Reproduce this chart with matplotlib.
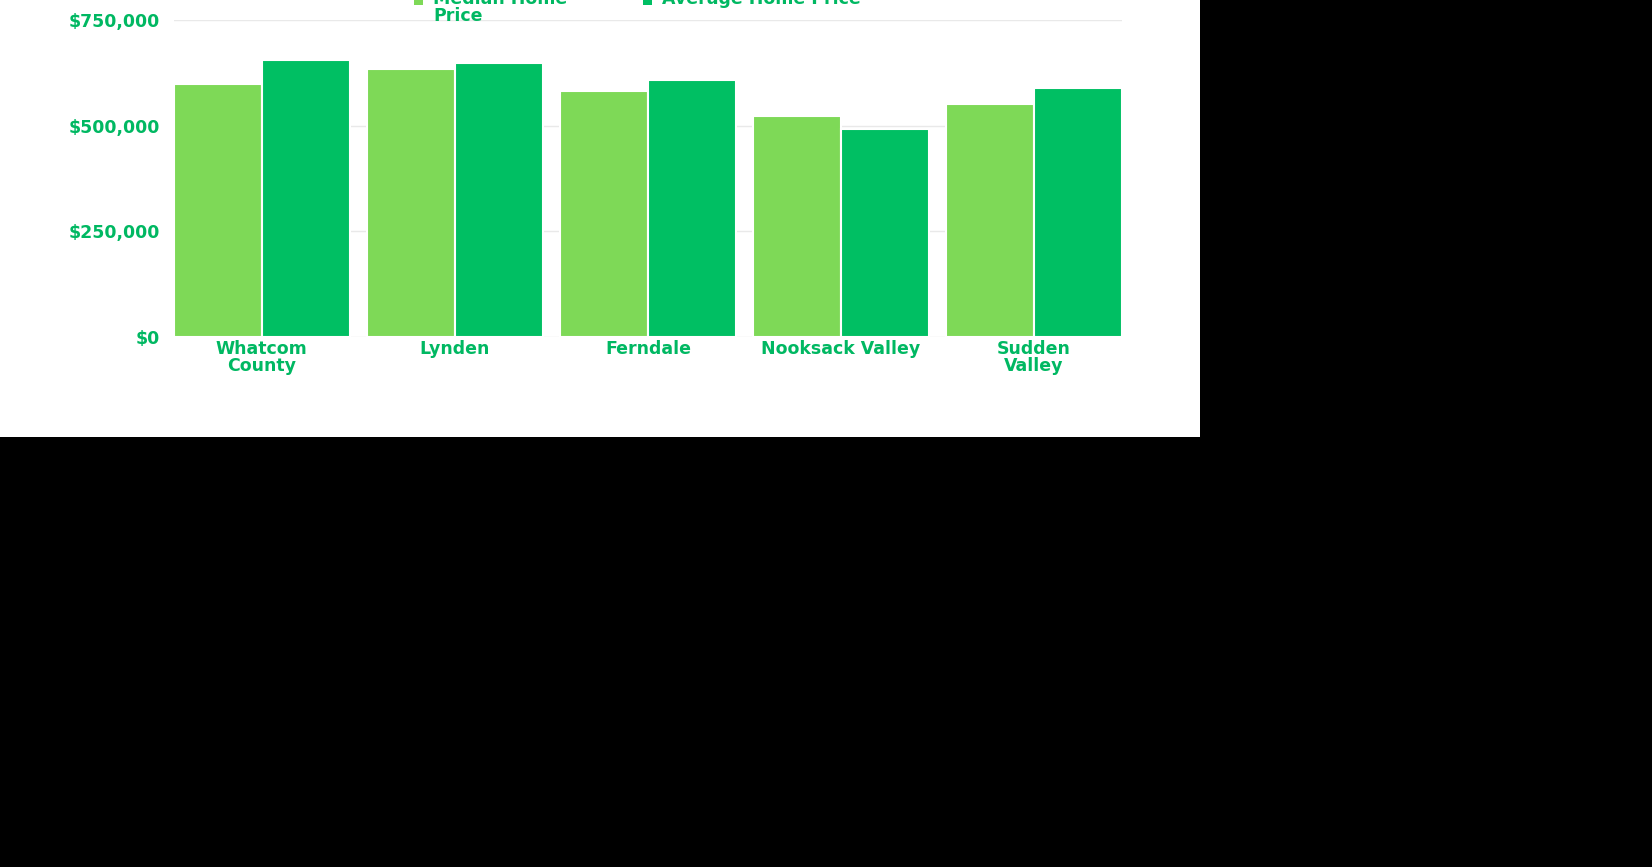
import matplotlib
matplotlib.use('Agg')
import matplotlib.pyplot as plt
import numpy as np
from matplotlib.patches import Rectangle
from matplotlib.ticker import FuncFormatter

areas = ['Whatcom\nCounty', 'Lynden', 'Ferndale', 'Nooksack Valley', 'Sudden\nValley']
series_names = ['Median Home\nPrice', 'Average Home Price']
median_price = [598000, 633000, 583000, 523000, 551000]
average_price = [655000, 648000, 608000, 493000, 588000]
y_ticks = [0, 250000, 500000, 750000]

light_green = '#7ED957'
dark_green = '#00BF63'
text_green = '#00b862'

plt.rcParams['font.family'] = ['DejaVu Sans']

W, H = 1652, 867
fig = plt.figure(figsize=(W / 100, H / 100), dpi=100, facecolor='black')
# white card in the upper left, rest of the picture is black
fig.add_artist(Rectangle((0, 1 - 437 / H), 1200 / W, 437 / H,
                         transform=fig.transFigure, facecolor='white',
                         edgecolor='none', zorder=-5))

ax = fig.add_axes([174 / W, 1 - 337 / H, 948 / W, 317 / H])
ax.set_facecolor('white')

x = np.arange(len(areas))
w = 0.455
ax.bar(x - w / 2, median_price, w, color=light_green, edgecolor='white',
       linewidth=1.5, zorder=3)
ax.bar(x + w / 2, average_price, w, color=dark_green, edgecolor='white',
       linewidth=1.5, zorder=3)

ax.set_xlim(-w, len(areas) - 1 + w)
ax.set_ylim(0, 750000)
ax.set_yticks(y_ticks)
ax.yaxis.set_major_formatter(FuncFormatter(lambda v, p: '${:,.0f}'.format(v)))
ax.set_xticks(x)
ax.set_xticklabels(areas, linespacing=0.95)

for lab in ax.get_xticklabels() + ax.get_yticklabels():
    lab.set_color(text_green)
    lab.set_fontweight('bold')
    lab.set_fontsize(12.5)

ax.tick_params(axis='y', length=0, pad=10)
ax.tick_params(axis='x', length=0, pad=2)
ax.grid(axis='y', color='#e9e9e9', linewidth=1, zorder=0)
ax.set_axisbelow(True)
for s in ax.spines.values():
    s.set_visible(False)

# legend at the top, partly cut by the edge of the image
leg_x = [414, 643]
for name, col, lx in zip(series_names, [light_green, dark_green], leg_x):
    fig.add_artist(Rectangle((lx / W, 1 - 5 / H), 9 / W, 9 / H,
                             transform=fig.transFigure, facecolor=col,
                             edgecolor='none'))
    fig.text((lx + 19) / W, 1 + 10 / H, name, color=text_green,
             fontsize=12.5, fontweight='bold', va='top', ha='left',
             linespacing=0.95)

fig.savefig('out.png', dpi=100, facecolor='black')
